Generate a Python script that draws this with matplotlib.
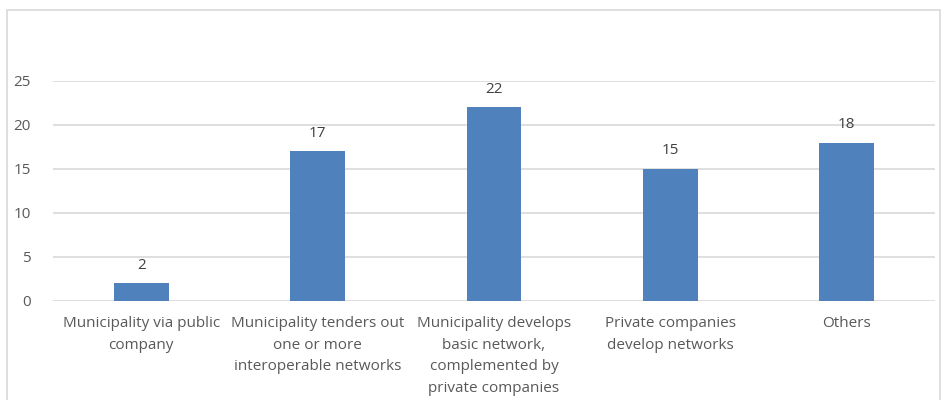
import matplotlib.pyplot as plt
from matplotlib.patches import Rectangle

categories = ["Municipality via public\ncompany",
              "Municipality tenders out\none or more\ninteroperable networks",
              "Municipality develops\nbasic network,\ncomplemented by\nprivate companies",
              "Private companies\ndevelop networks",
              "Others"]
counts = [2, 17, 22, 15, 18]
yticks = [0, 5, 10, 15, 20, 25]

text_col = "#595959"
bar_col = "#4f81bd"
plt.rcParams['font.family'] = ['Open Sans', 'DejaVu Sans']

fig = plt.figure(figsize=(9.43, 4.0), dpi=100)
# chart frame
fig.patches.append(Rectangle((7 / 943, -0.1), 933 / 943, 1 - 10 / 400 + 0.1,
                             transform=fig.transFigure, fill=False,
                             edgecolor="#d9d9d9", lw=1.2))

ax = fig.add_axes([53 / 943, 1 - 301 / 400, 882 / 943, 220 / 400])
x = range(len(categories))
bars = ax.bar(x, counts, width=0.31, color=bar_col, zorder=3)
for b, v in zip(bars, counts):
    ax.text(b.get_x() + b.get_width() / 2, v + 1.2, str(v), ha="center", va="bottom",
            fontsize=11, color="#404040")

ax.set_xlim(-0.5, len(categories) - 0.5)
ax.set_ylim(0, 25)
ax.set_yticks(yticks)
ax.set_xticks(list(x))
ax.set_xticklabels(categories, fontsize=11, color=text_col, linespacing=1.6)
ax.tick_params(axis="y", labelsize=11, labelcolor=text_col, length=0, pad=16)
ax.tick_params(axis="x", length=0, pad=11)
ax.grid(axis="y", color="#d9d9d9", lw=1.2, zorder=0)
for s in ax.spines.values():
    s.set_visible(False)

fig.savefig("out.png", dpi=100)
